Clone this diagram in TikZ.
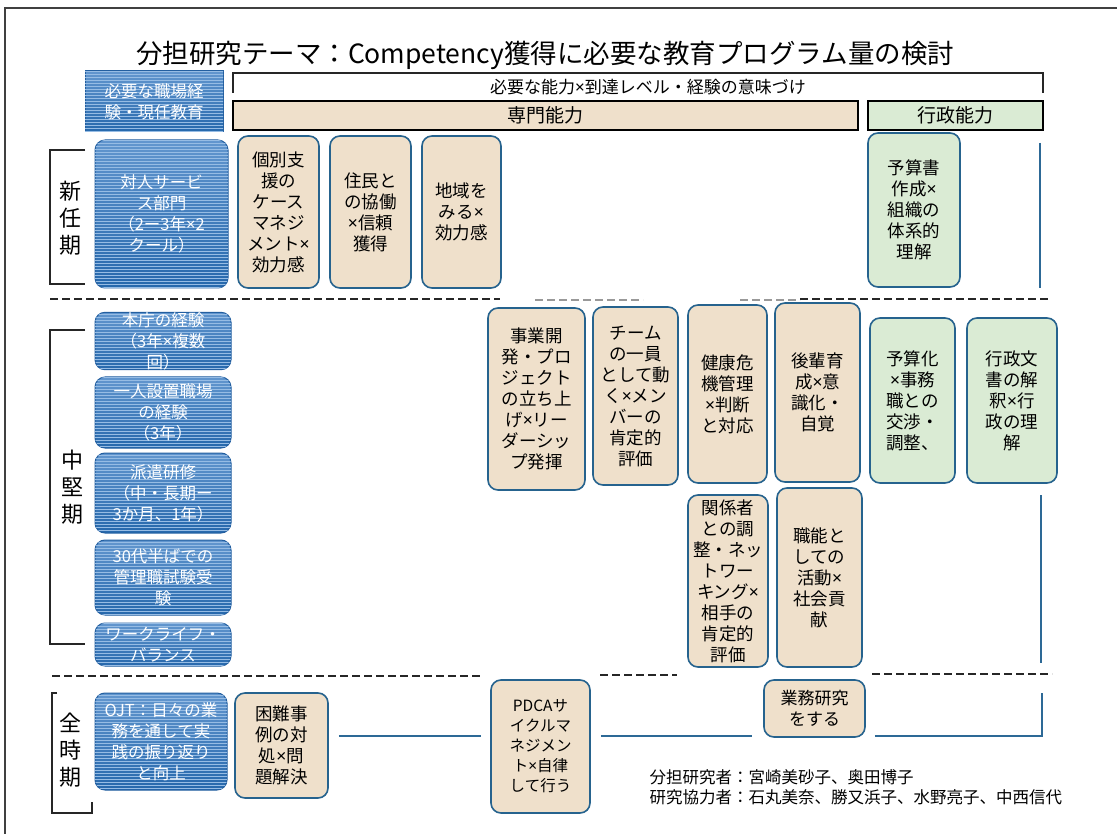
\documentclass[tikz,border=0pt]{standalone}
\usepackage{fontspec}
\setmainfont{Noto Sans CJK JP}
\newfontfamily\latf{Noto Sans}
\newcommand\X{{\latf ×}}
\usetikzlibrary{patterns}
\definecolor{tanF}{RGB}{239,224,203}
\definecolor{grnF}{RGB}{218,235,212}
\definecolor{bdr}{RGB}{38,99,142}
\definecolor{bdrB}{RGB}{35,95,160}
\definecolor{blueT}{RGB}{98,150,206}
\definecolor{blueB}{RGB}{38,104,172}
\definecolor{blueS}{RGB}{150,188,228}
\definecolor{connC}{RGB}{45,105,150}
\tikzset{
  bx/.style={font=\fontsize{17.5}{21}\selectfont},
  tanbox/.style={draw=bdr, line width=1.6pt, fill=tanF, rounded corners=10pt, align=center, inner sep=0pt, bx},
  grnbox/.style={tanbox, fill=grnF},
  expbox/.style={draw=bdrB, line width=1pt, top color=blueT, bottom color=blueB, rounded corners=10pt,
    align=center, inner sep=0pt, text=white, font=\fontsize{16.5}{21}\selectfont,
    postaction={pattern=horizontal lines, pattern color=blueS}},
  barbox/.style={draw=black, line width=1.5pt, inner sep=0pt, font=\fontsize{19}{22}\selectfont},
  brk/.style={draw=black!85, line width=1.6pt},
  lbl/.style={align=center, font=\fontsize{22}{27}\selectfont},
  dsh/.style={draw=black!85, line width=2pt, dash pattern=on 8pt off 4pt},
  gdsh/.style={draw=black!40, line width=1.6pt, dash pattern=on 8pt off 4pt},
  conn/.style={draw=connC, line width=1.6pt},
}
\begin{document}
\begin{tikzpicture}[x=1pt,y=-1pt]
\useasboundingbox (0,0) rectangle (1117,834);
\fill[white] (0,0) rectangle (1117,834);
% frame
\draw[black!75, line width=1.5pt] (1117,8) -- (5,8) -- (5,834);
% title
\node[anchor=base, font=\fontsize{26.5}{32}\selectfont] (title) at (545,64) {分担研究テーマ：Competency獲得に必要な教育プログラム量の検討};
% header
\node[expbox, sharp corners, minimum width=138pt, minimum height=61pt] (hb) at (154,101.5) {必要な職場経\\験・現任教育};
\draw[brk] (233,93) -- (233,73) -- (1043,73) -- (1043,93);
\node[font=\fontsize{17}{20}\selectfont] (need) at (648,87) {必要な能力\X 到達レベル・経験の意味づけ};
\node[barbox, fill=tanF, minimum width=625pt, minimum height=29pt] (sp) at (545.5,115.5) {専門能力};
\node[barbox, fill=grnF, minimum width=175pt, minimum height=29pt] (gy) at (955.5,115.5) {行政能力};
% row 1
\draw[brk] (85,150) -- (50,150) -- (50,284) -- (85,284);
\node[lbl] (r1) at (70,218) {新\\任\\期};
\node[expbox, minimum width=133pt, minimum height=148pt] (b1) at (161.5,214) {対人サービ\\ス部門\\（2ー3年\X 2\\クール）};
\node[tanbox, minimum width=81pt, minimum height=152pt] (t11) at (278.5,212) {個別支\\援の\\ケース\\マネジ\\メント\X\\効力感};
\node[tanbox, minimum width=81pt, minimum height=152pt] (t12) at (370.5,212) {住民と\\の協働\\\X 信頼\\獲得};
\node[tanbox, minimum width=79pt, minimum height=152pt] (t13) at (461.5,212) {地域を\\みる\X\\効力感};
\node[grnbox, minimum width=92pt, minimum height=154pt] (g11) at (914,210) {予算書\\作成\X\\組織の\\体系的\\理解};
\coordinate (v1a) at (1040,143);
\coordinate (v1b) at (1040,288);
\draw[conn] (v1a) -- (v1b);
% dashed separator 1
\draw[dsh] (50,299) -- (500,299);
\draw[gdsh] (535,300) -- (643,300);
\draw[gdsh] (740,300) -- (800,300);
\draw[dsh] (800,299) -- (1050,299);
% row 2
\draw[brk] (85,330) -- (50,330) -- (50,644) -- (85,644);
\node[lbl] (r2) at (72,487) {中\\堅\\期};
\node[expbox, minimum width=136pt, minimum height=54pt] (b21) at (163,341) {本庁の経験\\（3年\X 複数\\回）};
\node[expbox, minimum width=136pt, minimum height=71pt] (b22) at (163,412.5) {一人設置職場\\の経験\\（3年）};
\node[expbox, minimum width=136pt, minimum height=80pt] (b23) at (163,493) {派遣研修\\（中・長期ー\\3か月、1年）};
\node[expbox, minimum width=136pt, minimum height=75pt] (b24) at (163,577.5) {30代半ばでの\\管理職試験受\\験};
\node[expbox, minimum width=136pt, minimum height=43pt] (b25) at (163,644.5) {ワークライフ・\\バランス};
\node[tanbox, minimum width=97pt, minimum height=182pt] (t21) at (536.5,399) {事業開\\発・プロ\\ジェクト\\の立ち上\\げ\X リー\\ダーシッ\\プ発揮};
\node[tanbox, minimum width=85pt, minimum height=178pt] (t22) at (635.5,396) {チーム\\の一員\\として動\\く\X メン\\バーの\\肯定的\\評価};
\node[tanbox, minimum width=79pt, minimum height=178pt] (t23) at (727.5,394) {健康危\\機管理\\\X 判断\\と対応};
\node[tanbox, minimum width=85pt, minimum height=179pt] (t24) at (817.5,392.5) {後輩育\\成\X 意\\識化・\\自覚};
\node[grnbox, minimum width=85pt, minimum height=165pt] (g21) at (912.5,400.5) {予算化\\\X 事務\\職との\\交渉・\\調整、};
\node[grnbox, minimum width=90pt, minimum height=165pt] (g22) at (1012,400.5) {行政文\\書の解\\釈\X 行\\政の理\\解};
\node[tanbox, minimum width=80pt, minimum height=172pt] (t25) at (728,581) {関係者\\との調\\整・ネッ\\トワー\\キング\X\\相手の\\肯定的\\評価};
\node[tanbox, minimum width=85pt, minimum height=179pt] (t26) at (819.5,577.5) {職能と\\しての\\活動\X\\社会貢\\献};
\coordinate (v2a) at (1041,495);
\coordinate (v2b) at (1041,663);
\draw[conn] (v2a) -- (v2b);
% dashed separator 2
\draw[dsh] (52,676) -- (482,676);
\draw[dsh] (600,675) -- (677,675);
\draw[dsh] (872,674) -- (1052,674);
% row 3
\draw[brk] (57,693) -- (52,693) -- (52,813) -- (92,813) -- (92,802);
\node[lbl] (r3) at (70,750) {全\\時\\期};
\node[expbox, minimum width=132pt, minimum height=97pt] (b31) at (161,741.5) {OJT：日々の業\\務を通して実\\践の振り返り\\と向上};
\node[tanbox, minimum width=93pt, minimum height=105pt] (t31) at (281.5,745.5) {困難事\\例の対\\処\X 問\\題解決};
\node[tanbox, minimum width=99pt, minimum height=133pt, font=\fontsize{15.5}{20}\selectfont] (t32) at (540.5,746.5) {PDCAサ\\イクルマ\\ネジメン\\ト\X 自律\\して行う};
\node[tanbox, minimum width=101pt, minimum height=57pt, font=\fontsize{17}{21}\selectfont] (t33) at (814.5,708.5) {業務研究\\をする};
\coordinate (y3) at (0,736);
\coordinate (rc) at (1042,693);
\draw[conn, shorten <=10pt, shorten >=9pt] (t31.east |- y3) -- (t32.west |- y3);
\draw[conn, shorten <=10pt, shorten >=11pt] (t32.east |- y3) -- (t33.west |- y3);
\draw[conn, shorten <=9pt] (t33.east |- y3) -- (rc |- y3) -- (rc);
% names
\node[anchor=west, font=\fontsize{16.5}{20}\selectfont] (n1) at (646,777) {分担研究者：宮崎美砂子、奥田博子};
\node[anchor=west, font=\fontsize{16.5}{20}\selectfont] (n2) at (646,797) {研究協力者：石丸美奈、勝又浜子、水野亮子、中西信代};
\end{tikzpicture}
\end{document}
